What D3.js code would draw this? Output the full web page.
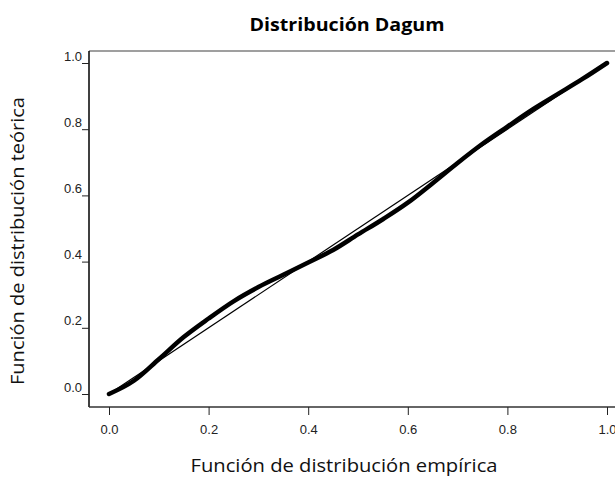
<!DOCTYPE html>
<html>
<head>
<meta charset="utf-8">
<script src="https://cdn.jsdelivr.net/npm/d3@7"></script>
<style>
    body { margin: 0; background: #fff; }
    svg { display: block; }
</style>
</head>
<body>
<script>
// valores
let empirica = [0, 0.05, 0.1, 0.15, 0.2, 0.25, 0.3, 0.35, 0.4, 0.45, 0.5,
    0.55, 0.6, 0.65, 0.7, 0.75, 0.8, 0.85, 0.9, 0.95, 1.0];
let teorica = [0, 0.040, 0.105, 0.172, 0.228, 0.280, 0.323, 0.360, 0.397, 0.435, 0.482,
    0.528, 0.578, 0.637, 0.698, 0.756, 0.808, 0.859, 0.905, 0.951, 1.0];
let diagonal = [0, 1];
let ticks = [0, 0.2, 0.4, 0.6, 0.8, 1.0];

let width = 615, height = 477;
let frame = {left: 89, top: 51, bottom: 407, right: 615};

let x = d3.scaleLinear().domain([0, 1]).range([109, 607]);
let y = d3.scaleLinear().domain([0, 1]).range([394, 63]);

let svg = d3.select("body").append("svg")
    .attr("width", width)
    .attr("height", height);

// marco
svg.append("line")
    .attr("x1", frame.left).attr("x2", frame.right)
    .attr("y1", frame.top).attr("y2", frame.top)
    .attr("stroke", "#7f7f7f").attr("stroke-width", 1.5);
svg.append("line")
    .attr("x1", frame.left).attr("x2", frame.left)
    .attr("y1", frame.top).attr("y2", frame.bottom)
    .attr("stroke", "#000").attr("stroke-width", 1.5);
svg.append("line")
    .attr("x1", frame.left).attr("x2", frame.right)
    .attr("y1", frame.bottom).attr("y2", frame.bottom)
    .attr("stroke", "#333").attr("stroke-width", 1.5);

let yAxis = d3.axisLeft(y)
    .tickValues(ticks)
    .tickFormat(d3.format(".1f"))
    .tickSize(7)
    .tickPadding(0);

let xAxis = d3.axisBottom(x)
    .tickValues(ticks)
    .tickFormat(d3.format(".1f"))
    .tickSize(8)
    .tickPadding(10);

let gy = svg.append("g")
    .attr("transform", "translate(" + frame.left + ",0)")
    .call(yAxis);
gy.select(".domain").remove();
gy.selectAll("text").attr("dy", "-0.22em");

let gx = svg.append("g")
    .attr("transform", "translate(0," + frame.bottom + ")")
    .call(xAxis);
gx.select(".domain").remove();

svg.selectAll(".tick text")
    .attr("font-family", "Liberation Sans, Arial, sans-serif")
    .attr("font-size", 13)
    .attr("fill", "#222");
svg.selectAll(".tick line").attr("stroke", "#222");

// linea de referencia
let refLine = d3.line()
    .x(d => x(d))
    .y(d => y(d));

svg.append("path")
    .datum(diagonal)
    .attr("d", refLine)
    .attr("fill", "none")
    .attr("stroke", "#000")
    .attr("stroke-width", 1.2);

// curva P-P
let pts = empirica.map((e, i) => [e, teorica[i]]);
let curve = d3.line()
    .x(d => x(d[0]))
    .y(d => y(d[1]))
    .curve(d3.curveMonotoneX);

svg.append("path")
    .datum(pts)
    .attr("d", curve)
    .attr("fill", "none")
    .attr("stroke", "#000")
    .attr("stroke-width", 4.5)
    .attr("stroke-linecap", "round");

// textos
svg.append("text")
    .attr("x", 347).attr("y", 31)
    .attr("text-anchor", "middle")
    .attr("font-family", "Open Sans, sans-serif")
    .attr("font-weight", "bold")
    .attr("font-size", 18)
    .attr("textLength", 195)
    .attr("lengthAdjust", "spacingAndGlyphs")
    .text("Distribución Dagum");

svg.append("text")
    .attr("x", 344).attr("y", 472)
    .attr("text-anchor", "middle")
    .attr("font-family", "Open Sans, sans-serif")
    .attr("font-size", 18)
    .attr("fill", "#111")
    .attr("textLength", 307)
    .attr("lengthAdjust", "spacingAndGlyphs")
    .text("Función de distribución empírica");

svg.append("text")
    .attr("transform", "translate(24,241) rotate(-90)")
    .attr("text-anchor", "middle")
    .attr("font-family", "Open Sans, sans-serif")
    .attr("font-size", 18)
    .attr("fill", "#111")
    .attr("textLength", 288)
    .attr("lengthAdjust", "spacingAndGlyphs")
    .text("Función de distribución teórica");
</script>
</body>
</html>
